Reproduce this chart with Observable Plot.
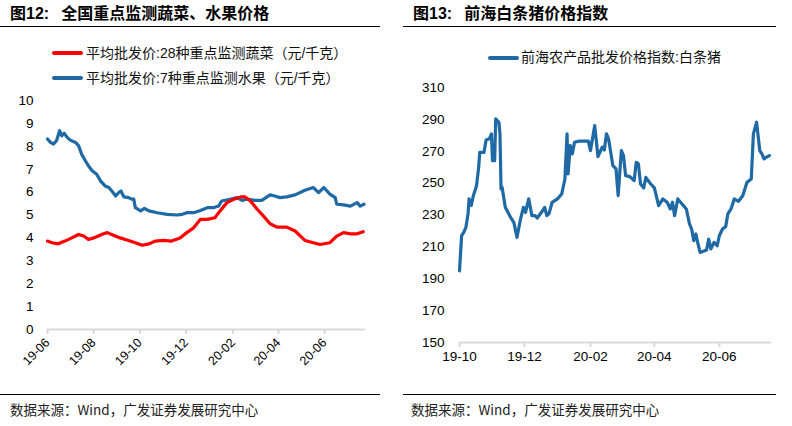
<!DOCTYPE html>
<html>
<head>
<meta charset="utf-8">
<script src="https://cdn.jsdelivr.net/npm/d3@7"></script>
<script src="https://cdn.jsdelivr.net/npm/@observablehq/plot@0.6"></script>
<style>
  body { margin: 0; background: #fff; }
  #wrap { position: relative; width: 792px; height: 426px; overflow: hidden; font-family: "Liberation Sans", Arial, "Noto Sans CJK SC", sans-serif; color: #000; }
  .abs { position: absolute; white-space: nowrap; }
  .title { font-size: 16px; font-weight: bold; line-height: 20px; font-family: "Liberation Sans", Arial, "Noto Sans CJK SC", sans-serif; }
  .rule { position: absolute; height: 0; border-top: 1.5px solid #000; }
  .leg { font-size: 14px; line-height: 16px; font-family: "Liberation Sans", Arial, "Noto Sans CJK SC", sans-serif; color: #111; }
  .legline { position: absolute; height: 4px; border-radius: 2px; }
  .src { font-size: 13.5px; line-height: 16px; color: #222; font-family: "Noto Sans CJK SC", "Liberation Sans", sans-serif; }
</style>
</head>
<body>
<div id="wrap">
  <div class="abs title" style="left:10px; top:4px;">图12:<span style="margin-left:12px">全国重点监测蔬菜、水果价格</span></div>
  <div class="rule" style="left:0px; top:26px; width:380px;"></div>
  <div class="abs title" style="left:413px; top:4px;">图13:<span style="margin-left:12px">前海白条猪价格指数</span></div>
  <div class="rule" style="left:403px; top:26px; width:373px;"></div>

  <div class="legline" style="left:52px; top:51px; width:31px; background:#ff0000;"></div>
  <div class="abs leg" style="left:86px; top:45px;">平均批发价:28种重点监测蔬菜（元/千克）</div>
  <div class="legline" style="left:52px; top:76px; width:31px; background:#1f69a5;"></div>
  <div class="abs leg" style="left:86px; top:70px;">平均批发价:7种重点监测水果（元/千克）</div>

  <div class="legline" style="left:488px; top:56px; width:31px; background:#1f69a5;"></div>
  <div class="abs leg" style="left:521px; top:49px;">前海农产品批发价格指数:白条猪</div>

  <div id="left" class="abs" style="left:0px; top:90px;"></div>
  <div id="right" class="abs" style="left:396px; top:77px;"></div>

  <div class="rule" style="left:0px; top:394px; width:380px;"></div>
  <div class="rule" style="left:403px; top:394px; width:373px;"></div>
  <div class="abs src" style="left:10px; top:401px;">数据来源：Wind，广发证券发展研究中心</div>
  <div class="abs src" style="left:411px; top:401px;">数据来源：Wind，广发证券发展研究中心</div>
</div>
<script>
// ---------- Data: left panel (元/千克) ----------
const vegDates = ["2019-06-01","2019-06-07","2019-06-15","2019-06-24","2019-07-03","2019-07-12","2019-07-19","2019-07-25","2019-08-01","2019-08-07","2019-08-14","2019-08-19","2019-08-27","2019-09-05","2019-09-16","2019-09-25","2019-10-04","2019-10-13","2019-10-21","2019-11-01","2019-11-12","2019-11-23","2019-12-02","2019-12-11","2019-12-20","2019-12-29","2020-01-08","2020-01-15","2020-01-24","2020-02-02","2020-02-11","2020-02-17","2020-02-24","2020-03-04","2020-03-12","2020-03-21","2020-03-30","2020-04-12","2020-04-23","2020-05-06","2020-05-17","2020-05-26","2020-06-08","2020-06-17","2020-06-26","2020-07-05","2020-07-14","2020-07-22"];
const vegValues = [3.86,3.79,3.74,3.86,4.00,4.15,4.08,3.93,4.00,4.08,4.18,4.23,4.12,4.00,3.89,3.79,3.68,3.74,3.86,3.89,3.86,4.00,4.23,4.44,4.81,4.81,4.88,5.18,5.54,5.69,5.79,5.79,5.61,5.25,4.96,4.62,4.47,4.47,4.30,3.89,3.79,3.71,3.79,4.08,4.23,4.18,4.18,4.27];

const fruitDates = ["2019-06-01","2019-06-05","2019-06-09","2019-06-13","2019-06-17","2019-06-20","2019-06-23","2019-06-27","2019-07-01","2019-07-08","2019-07-12","2019-07-16","2019-07-21","2019-07-25","2019-07-30","2019-08-05","2019-08-10","2019-08-16","2019-08-21","2019-08-25","2019-08-30","2019-09-03","2019-09-06","2019-09-10","2019-09-16","2019-09-20","2019-09-23","2019-09-25","2019-10-02","2019-10-07","2019-10-13","2019-10-24","2019-11-06","2019-11-19","2019-11-26","2019-12-02","2019-12-11","2019-12-20","2019-12-29","2020-01-06","2020-01-13","2020-01-17","2020-01-28","2020-02-06","2020-02-13","2020-02-19","2020-03-01","2020-03-10","2020-03-21","2020-03-27","2020-04-03","2020-04-12","2020-04-23","2020-05-06","2020-05-17","2020-05-24","2020-05-31","2020-06-08","2020-06-15","2020-06-17","2020-06-26","2020-07-05","2020-07-14","2020-07-18","2020-07-23"];
const fruitValues = [8.32,8.17,8.10,8.25,8.68,8.46,8.57,8.39,8.27,8.17,8.03,7.66,7.37,7.15,6.93,6.78,6.49,6.27,6.20,6.05,5.83,5.98,6.05,5.79,5.76,5.69,5.69,5.32,5.18,5.29,5.18,5.10,5.03,5.00,5.03,5.10,5.10,5.20,5.32,5.32,5.39,5.61,5.69,5.76,5.64,5.69,5.64,5.64,5.88,5.83,5.76,5.79,5.88,6.08,6.20,5.98,6.20,5.91,5.76,5.47,5.44,5.39,5.54,5.39,5.47];

const leftTicks = ["2019-06-01","2019-08-01","2019-10-01","2019-12-01","2020-02-01","2020-04-01","2020-06-01"];
const leftTickLabels = ["19-06","19-08","19-10","19-12","20-02","20-04","20-06"];
const leftYTicks = [0,1,2,3,4,5,6,7,8,9,10];

// ---------- Data: right panel (index) ----------
const porkDates = ["2019-10-01","2019-10-03","2019-10-05","2019-10-07","2019-10-09","2019-10-10","2019-10-12","2019-10-14","2019-10-17","2019-10-19","2019-10-20","2019-10-24","2019-10-26","2019-10-29","2019-10-31","2019-11-01","2019-11-03","2019-11-04","2019-11-07","2019-11-08","2019-11-09","2019-11-10","2019-11-13","2019-11-18","2019-11-21","2019-11-24","2019-11-27","2019-11-30","2019-12-02","2019-12-05","2019-12-08","2019-12-11","2019-12-13","2019-12-17","2019-12-20","2019-12-22","2019-12-24","2019-12-27","2020-01-01","2020-01-05","2020-01-08","2020-01-10","2020-01-11","2020-01-13","2020-01-15","2020-01-17","2020-01-21","2020-01-30","2020-02-01","2020-02-05","2020-02-08","2020-02-12","2020-02-14","2020-02-16","2020-02-18","2020-02-22","2020-02-25","2020-02-27","2020-03-01","2020-03-03","2020-03-05","2020-03-09","2020-03-13","2020-03-15","2020-03-17","2020-03-19","2020-03-22","2020-03-24","2020-03-28","2020-04-01","2020-04-05","2020-04-09","2020-04-13","2020-04-16","2020-04-18","2020-04-20","2020-04-23","2020-04-27","2020-05-01","2020-05-04","2020-05-06","2020-05-08","2020-05-10","2020-05-12","2020-05-14","2020-05-17","2020-05-20","2020-05-22","2020-05-24","2020-05-27","2020-05-30","2020-06-01","2020-06-04","2020-06-07","2020-06-09","2020-06-12","2020-06-15","2020-06-19","2020-06-23","2020-06-27","2020-07-01","2020-07-03","2020-07-06","2020-07-09","2020-07-11","2020-07-13","2020-07-15","2020-07-18"];
const porkValues = [195.0,217.0,219.1,222.2,230.7,240.1,235.9,242.1,248.4,259.9,269.3,269.3,277.1,277.8,280.9,264.1,264.1,290.3,288.2,280.9,246.4,247.4,234.8,228.5,225.4,216.0,226.4,234.8,231.7,240.1,229.6,229.6,228.1,231.7,234.8,229.6,230.7,237.9,240.1,243.2,252.6,280.9,255.8,273.6,268.3,275.6,276.3,276.3,270.4,286.1,266.6,272.5,270.8,280.9,277.8,261.0,258.9,242.1,270.4,267.3,254.7,254.1,251.6,263.1,262.1,249.5,247.0,253.6,249.9,247.0,235.9,240.1,238.0,233.8,238.0,229.6,240.1,236.9,233.8,224.4,221.2,213.9,218.1,211.8,206.5,207.2,208.0,214.9,208.7,212.8,210.7,217.0,221.2,222.7,230.7,233.8,240.1,238.6,242.1,250.5,252.6,280.9,288.2,270.4,268.3,265.2,266.2,267.3];

const rightTicks = ["2019-10-01","2019-12-01","2020-02-01","2020-04-01","2020-06-01"];
const rightTickLabels = ["19-10","19-12","20-02","20-04","20-06"];
const rightYTicks = [150,170,190,210,230,250,270,290,310];

// ---------- Build ----------
const toRows = (dates, values) => dates.map((d, i) => ({date: new Date(d), value: values[i]}));
const veg = toRows(vegDates, vegValues);
const fruit = toRows(fruitDates, fruitValues);
const pork = toRows(porkDates, porkValues);

const BLUE = "#1f69a5", RED = "#ff0000", GRID = "#d9d9d9";
const fontStyle = {fontFamily: "'Liberation Sans', Arial, sans-serif", fontSize: "13px", color: "#000", background: "transparent", overflow: "visible"};

const lt = leftTicks.map(d => new Date(d));
const ltLab = new Map(lt.map((d, i) => [+d, leftTickLabels[i]]));
const leftPlot = Plot.plot({
  width: 380, height: 284,
  marginLeft: 47, marginRight: 15, marginTop: 10, marginBottom: 45,
  style: fontStyle,
  x: {type: "utc", domain: [new Date("2019-06-01"), new Date("2020-07-25")], axis: null},
  y: {domain: [0, 10], axis: null},
  marks: [
    Plot.ruleY([0], {stroke: GRID, strokeWidth: 2}),
    Plot.axisX({ticks: lt, tickFormat: d => ltLab.get(+d), tickSize: 5, stroke: GRID, strokeWidth: 2, fill: "#000", tickRotate: -45, tickPadding: 6, fontSize: 12.5, label: null}),
    Plot.axisY({ticks: leftYTicks, tickSize: 0, tickPadding: 14, fill: "#000", fontSize: 13.5, label: null}),
    Plot.lineY(fruit, {x: "date", y: "value", stroke: BLUE, strokeWidth: 3.2}),
    Plot.lineY(veg, {x: "date", y: "value", stroke: RED, strokeWidth: 3.2})
  ]
});
document.getElementById("left").appendChild(leftPlot);

const rt = rightTicks.map(d => new Date(d));
const rtLab = new Map(rt.map((d, i) => [+d, rightTickLabels[i]]));
const rightPlot = Plot.plot({
  width: 396, height: 295,
  marginLeft: 63, marginRight: 21, marginTop: 10, marginBottom: 30,
  style: fontStyle,
  x: {type: "utc", domain: [new Date("2019-10-01"), new Date("2020-07-20")], axis: null},
  y: {domain: [150, 310], axis: null},
  marks: [
    Plot.ruleY([150], {stroke: GRID, strokeWidth: 2}),
    Plot.axisX({ticks: rt, tickFormat: d => rtLab.get(+d), tickSize: 5, stroke: GRID, strokeWidth: 2, fill: "#000", tickPadding: 4, fontSize: 13.5, label: null}),
    Plot.axisY({ticks: rightYTicks, tickSize: 0, tickPadding: 15, fill: "#000", fontSize: 13.5, label: null}),
    Plot.lineY(pork, {x: "date", y: "value", stroke: BLUE, strokeWidth: 3.2})
  ]
});
document.getElementById("right").appendChild(rightPlot);
</script>
</body>
</html>
